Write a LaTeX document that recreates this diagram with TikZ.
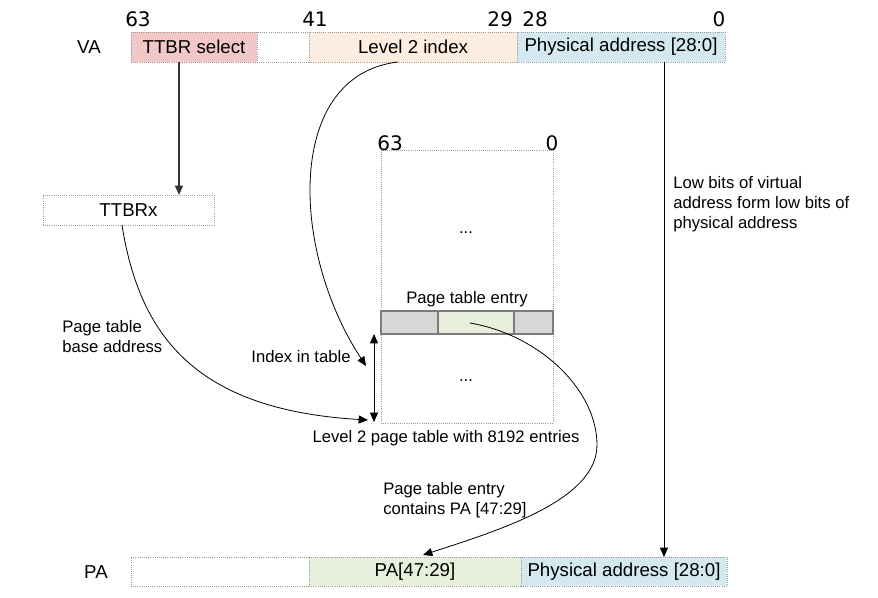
\documentclass[tikz,border=0pt]{standalone}
\usepackage{fontspec}
\setmainfont{Liberation Sans}
\newfontfamily\numfont{DejaVu Sans}
\usetikzlibrary{arrows.meta}
\definecolor{pinkf}{HTML}{F2C7C7}
\definecolor{orangef}{HTML}{FDEDE0}
\definecolor{bluef}{HTML}{D3E9EF}
\definecolor{greenf}{HTML}{E8EFDC}
\definecolor{grayf}{HTML}{D9D7D8}
\definecolor{edgeg}{HTML}{9A9A9A}
\tikzset{
  cell/.style={draw=edgeg, densely dotted, line width=0.6pt, anchor=north west, inner sep=0pt, outer sep=0pt,
    font=\fontsize{14}{16}\selectfont},
  entcell/.style={draw=edgeg!80!black, line width=0.8pt, anchor=north west, inner sep=0pt, outer sep=0pt},
  lbl/.style={font=\fontsize{12.5}{15}\selectfont, inner sep=0pt},
  rowlbl/.style={font=\fontsize{14}{16}\selectfont, inner sep=0pt},
  bitno/.style={font=\numfont\fontsize{15}{17}\selectfont, inner sep=0pt},
  tip/.style={-{Triangle[length=7pt,width=6pt]}},
  conn/.style={tip, line width=0.7pt, black},
  curve/.style={tip, line width=0.6pt, black}
}
\begin{document}
\begin{tikzpicture}[x=0.75pt,y=-0.75pt]
\useasboundingbox (0,0) rectangle (878,597);
% VA row
\node[rowlbl] (va) at (89,47) {VA};
\node[cell, fill=pinkf, minimum width=126*0.75pt, minimum height=30*0.75pt] (ttbrsel) at (131,32) {TTBR select};
\node[cell, fill=white, minimum width=52*0.75pt, minimum height=30*0.75pt] (vablank) at (257,32) {};
\node[cell, fill=orangef, minimum width=208*0.75pt, minimum height=30*0.75pt] (l2idx) at (309,32) {Level 2 index};
\node[cell, fill=bluef, minimum width=208*0.75pt, minimum height=30*0.75pt] (vaphys) at (517,32) {Physical address [28:0]};
\node[bitno] (b63) at (138,19) {63};
\node[bitno] (b41) at (315,19) {41};
\node[bitno] (b29) at (500,19) {29};
\node[bitno] (b28) at (535,19) {28};
\node[bitno] (b0) at (719,19) {0};
% TTBRx
\node[cell, fill=white, minimum width=171*0.75pt, minimum height=30*0.75pt] (ttbrx) at (43,195) {TTBRx};
% Table
\node[cell, fill=white, minimum width=172*0.75pt, minimum height=273*0.75pt] (table) at (381,150) {};
\node[bitno] (t63) at (390,143) {63};
\node[bitno] (t0) at (552,143) {0};
\node[lbl] (dots1) at (466,233) {...};
\node[lbl] (dots2) at (466,381) {...};
\node[lbl] (pte) at (467,299) {Page table entry};
\node[entcell, fill=grayf, minimum width=57*0.75pt, minimum height=23*0.75pt] (entl) at (381,311) {};
\node[entcell, fill=greenf, minimum width=76*0.75pt, minimum height=23*0.75pt] (entm) at (438,311) {};
\node[entcell, fill=grayf, minimum width=39*0.75pt, minimum height=23*0.75pt] (entr) at (514,311) {};
\node[lbl] (tblcap) at (446,438) {Level 2 page table with 8192 entries};
\node[lbl] (idxlbl) at (301,357) {Index in table};
\node[lbl, align=left, anchor=west] (ptbase) at (62,337) {Page table\\base address};
\node[lbl, align=left, anchor=west] (ptecont) at (383,500) {Page table entry\\contains PA [47:29]};
\node[lbl, align=left, anchor=west] (lowbits) at (673,204) {Low bits of virtual\\address form low bits of\\physical address};
% PA row
\node[rowlbl] (pa) at (96,572) {PA};
\node[cell, fill=white, minimum width=178*0.75pt, minimum height=29*0.75pt] (pablank) at (131,557) {};
\node[cell, fill=greenf, minimum width=212*0.75pt, minimum height=29*0.75pt] (pahigh) at (309,557) {PA[47:29]};
\node[cell, fill=bluef, minimum width=206*0.75pt, minimum height=29*0.75pt] (paphys) at (521,557) {Physical address [28:0]};
% coordinates
\coordinate (selbot) at (179,62);
\coordinate (l2bot) at (398,62);
\coordinate (ttbrxbot) at (122,225);
\coordinate (idxtip) at (366,366);
\coordinate (basetip) at (368,420);
\coordinate (entstart) at (470,323);
\coordinate (entmid) at (597,445);
\coordinate (patip) at (423,555);
\coordinate (vaphysbot) at (664,62);
\coordinate (paphystop) at (664,557);
\coordinate (dtop) at (374,334);
\coordinate (dbot) at (374,422);
% connectors
\draw[conn, line width=1.1pt, black!80] (selbot) -- (selbot |- ttbrx.north);
\draw[conn] (vaphysbot) -- (paphystop);
\draw[curve] (l2bot) .. controls (285,75) and (290,250) .. (idxtip);
\draw[curve] (ttbrxbot) .. controls (140,340) and (200,410) .. (basetip);
\draw[curve] (entstart) .. controls (540,335) and (597,390) .. (entmid) .. controls (597,500) and (500,530) .. (patip);
\draw[{Triangle[length=7pt,width=6pt]}-{Triangle[length=7pt,width=6pt]}, line width=0.7pt] (dtop) -- (dbot);
\end{tikzpicture}
\end{document}
